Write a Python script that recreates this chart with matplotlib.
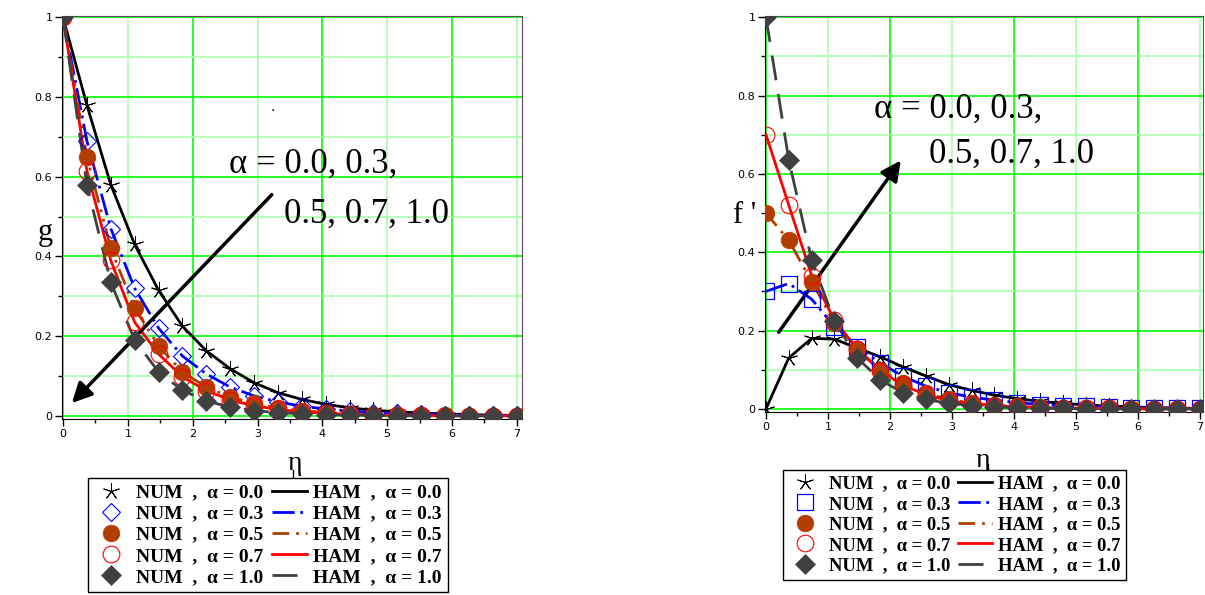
import numpy as np
import matplotlib
matplotlib.use('Agg')
import matplotlib.pyplot as plt
from matplotlib.lines import Line2D

# data
eta = [0.0, 0.368, 0.737, 1.105, 1.474, 1.842, 2.211, 2.579, 2.947, 3.316,
       3.684, 4.053, 4.421, 4.789, 5.158, 5.526, 5.895, 6.263, 6.632, 7.0]
alphas = ['0.0', '0.3', '0.5', '0.7', '1.0']

g_a00 = [1.0, 0.78, 0.58, 0.43, 0.315, 0.225, 0.163, 0.118, 0.083, 0.058,
         0.041, 0.029, 0.020, 0.014, 0.010, 0.007, 0.005, 0.003, 0.002, 0.001]
g_a03 = [1.0, 0.69, 0.47, 0.32, 0.22, 0.15, 0.105, 0.072, 0.050, 0.035,
         0.024, 0.017, 0.012, 0.008, 0.006, 0.004, 0.003, 0.002, 0.001, 0.001]
g_a05 = [1.0, 0.65, 0.42, 0.27, 0.175, 0.11, 0.072, 0.047, 0.031, 0.020,
         0.013, 0.008, 0.005, 0.003, 0.002, 0.001, 0.001, 0.0, 0.0, 0.0]
g_a07 = [1.0, 0.615, 0.39, 0.235, 0.155, 0.098, 0.063, 0.040, 0.025, 0.016,
         0.010, 0.006, 0.004, 0.002, 0.001, 0.001, 0.0, 0.0, 0.0, 0.0]
g_a10 = [1.0, 0.58, 0.335, 0.19, 0.11, 0.064, 0.037, 0.022, 0.013, 0.008,
         0.005, 0.003, 0.002, 0.001, 0.0, 0.0, 0.0, 0.0, 0.0, 0.0]

f_a00 = [0.0, 0.13, 0.18, 0.178, 0.155, 0.133, 0.107, 0.084, 0.062, 0.047,
         0.035, 0.026, 0.019, 0.014, 0.010, 0.007, 0.005, 0.003, 0.002, 0.001]
f_a03 = [0.30, 0.32, 0.28, 0.21, 0.158, 0.117, 0.083, 0.058, 0.041, 0.030,
         0.022, 0.016, 0.011, 0.008, 0.006, 0.004, 0.003, 0.002, 0.002, 0.001]
f_a05 = [0.50, 0.43, 0.325, 0.22, 0.153, 0.10, 0.066, 0.040, 0.024, 0.015,
         0.009, 0.006, 0.004, 0.002, 0.001, 0.001, 0.0, 0.0, 0.0, 0.0]
f_a07 = [0.70, 0.52, 0.34, 0.227, 0.152, 0.097, 0.060, 0.036, 0.021, 0.013,
         0.008, 0.005, 0.003, 0.002, 0.001, 0.001, 0.0, 0.0, 0.0, 0.0]
f_a10 = [1.0, 0.635, 0.38, 0.224, 0.13, 0.074, 0.041, 0.024, 0.014, 0.008,
         0.005, 0.003, 0.002, 0.001, 0.0, 0.0, 0.0, 0.0, 0.0, 0.0]

g_series = [g_a00, g_a03, g_a05, g_a07, g_a10]
f_series = [f_a00, f_a03, f_a05, f_a07, f_a10]

# styles
colors = ['black', '#0000FF', '#B33C00', '#FF0000', '#404040']
dashes = [None, (8, 2, 1, 2), (6, 2.5, 1, 2.5, 1, 2.5), None, (9, 5)]
serif = 'Liberation Serif'
bright = '#00FF00'
light = '#A8FFA8'


def num_style(i, square=False):
    if i == 0:
        return dict(marker=(5, 2, 0), ms=12, mec='black', mfc='none', mew=0.7)
    if i == 1:
        if square:
            return dict(marker='s', ms=12, mec='#0000FF', mfc='none', mew=0.9)
        return dict(marker='D', ms=9, mec='#0000FF', mfc='none', mew=0.8)
    if i == 2:
        return dict(marker='o', ms=12, mec='#B33C00', mfc='#B33C00', mew=0.5)
    if i == 3:
        return dict(marker='o', ms=12, mec='#FF0000', mfc='none', mew=0.8)
    return dict(marker='D', ms=10, mec='#404040', mfc='#404040', mew=0.5)


def ham_style(i):
    d = dict(color=colors[i], lw=2.0)
    if dashes[i] is not None:
        d['dashes'] = dashes[i]
    return d


def setup_axes(ax, xmax, ybottom):
    ax.set_xlim(-0.015, xmax)
    ax.set_ylim(ybottom, 1.003)
    for v in np.arange(0, 8, 1):
        ax.axvline(v, color=bright if v % 2 == 0 else light, lw=1.2, zorder=0)
    for k in range(11):
        ax.axhline(k / 10, color=bright if k % 2 == 0 else light, lw=1.2, zorder=0)
    ax.set_xticks(range(8))
    ax.set_xticks(np.arange(0.5, 7.1, 1), minor=True)
    ax.set_yticks([0, 0.2, 0.4, 0.6, 0.8, 1])
    ax.set_yticklabels(['0', '0.2', '0.4', '0.6', '0.8', '1'])
    ax.set_yticks(np.arange(0.1, 1.0, 0.2), minor=True)
    ax.tick_params(which='major', length=5, width=1, labelsize=8, pad=2)
    ax.tick_params(which='minor', length=3, width=1)
    for s in ['top', 'right']:
        ax.spines[s].set_color('#555555')
    for s in ['left', 'bottom']:
        ax.spines[s].set_color('black')


fig = plt.figure(figsize=(12.05, 5.95), dpi=100)

# left panel: g
ax1 = fig.add_axes([0.0515, 0.2958, 0.3817, 0.677])
setup_axes(ax1, 7.08, -0.008)
for i, ys in enumerate(g_series):
    ax1.plot(eta, ys, zorder=3, **ham_style(i))
for i, ys in enumerate(g_series):
    ax1.plot(eta, ys, ls='none', zorder=4, **num_style(i))
ax1.set_xlabel('η', family=serif, fontsize=20, va='center')
ax1.set_ylabel('g', family=serif, fontsize=22, rotation=0, va='center', ha='center')
ax1.xaxis.set_label_coords(0.507, -0.11)
ax1.yaxis.set_label_coords(-0.037, 0.464)
ax1.annotate('', xy=(0.107, 0.027), xytext=(3.25, 0.56),
             arrowprops=dict(arrowstyle='-|>', lw=2.5, color='black', mutation_scale=30))
ax1.text(2.56, 0.61, 'α = 0.0, 0.3,', family=serif, fontsize=25, va='baseline')
ax1.text(3.41, 0.485, '0.5, 0.7, 1.0', family=serif, fontsize=25, va='baseline')
ax1.text(3.2, 0.765, '.', fontsize=10)

# right panel: f'
ax2 = fig.add_axes([0.6349, 0.3076, 0.3635, 0.6655])
setup_axes(ax2, 7.05, -0.008)
for i, ys in enumerate(f_series):
    ax2.plot(eta, ys, zorder=3, **ham_style(i))
for i, ys in enumerate(f_series):
    ax2.plot(eta, ys, ls='none', zorder=4, **num_style(i, square=True))
ax2.set_xlabel('η', family=serif, fontsize=20, va='center')
ax2.set_ylabel("f '", family=serif, fontsize=22, rotation=0, va='center', ha='center')
ax2.xaxis.set_label_coords(0.498, -0.122)
ax2.yaxis.set_label_coords(-0.046, 0.497)
ax2.annotate('', xy=(2.2, 0.64), xytext=(0.18, 0.19),
             arrowprops=dict(arrowstyle='-|>', lw=2.5, color='black', mutation_scale=30))
ax2.text(1.74, 0.742, 'α = 0.0, 0.3,', family=serif, fontsize=25, va='baseline')
ax2.text(2.63, 0.628, '0.5, 0.7, 1.0', family=serif, fontsize=25, va='baseline')

# legends
for square, anchor, fsize in [(False, (0.073, 0.1966), 14), (True, (0.6498, 0.2101), 13.4)]:
    handles, labels = [], []
    for i, a in enumerate(alphas):
        handles.append(Line2D([], [], ls='none', **num_style(i, square)))
        labels.append('NUM  ,  α = ' + a)
    for i, a in enumerate(alphas):
        handles.append(Line2D([], [], **ham_style(i)))
        labels.append('HAM  ,  α = ' + a)
    leg = fig.legend(handles, labels, ncol=2, loc='upper left', bbox_to_anchor=anchor,
                     prop=dict(family=serif, weight='bold', size=fsize),
                     frameon=True, fancybox=False, edgecolor='black', framealpha=1,
                     handlelength=1.8, handletextpad=0.35, columnspacing=0.45,
                     labelspacing=0.18, borderpad=0.3, borderaxespad=0)
    leg.get_frame().set_linewidth(1.0)

fig.add_artist(Line2D([293 / 1205, 293 / 1205], [1 - 470 / 595, 1 - 478 / 595],
                      color='black', lw=1))
fig.add_artist(Line2D([988 / 1205, 988 / 1205], [1 - 464 / 595, 1 - 470 / 595],
                      color='black', lw=1))

fig.savefig('out.png', dpi=100)
